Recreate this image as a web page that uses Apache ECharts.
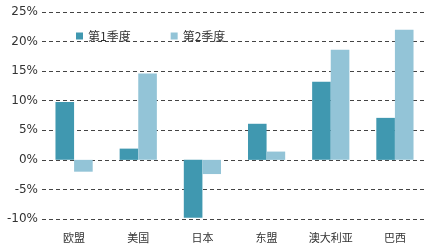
<!DOCTYPE html>
<html><head><meta charset="utf-8">
<script src="https://cdn.jsdelivr.net/npm/echarts@6/dist/echarts.min.js"></script>
<style>html,body{margin:0;padding:0;background:#fff}#c{width:440px;height:248px}</style>
</head><body><div id="c"></div>
<script>
const categories = ['欧盟','美国','日本','东盟','澳大利亚','巴西'];
const q1 = [9.8, 1.9, -9.8, 6.1, 13.2, 7.1];
const q2 = [-2.0, 14.6, -2.4, 1.4, 18.6, 22.0];
const yTicks = {min: -10, max: 25, interval: 5};
const chart = echarts.init(document.getElementById('c'));
chart.setOption({
  animation: false,
  grid: {left: 42, right: 13, top: 12, bottom: 29},
  legend: {
    left: 71, top: 25, itemWidth: 7, itemHeight: 7, itemGap: 40,
    icon: 'rect',
    textStyle: {fontSize: 12, color: '#333', fontFamily: 'Noto Sans CJK SC'},
    data: ['第1季度','第2季度']
  },
  xAxis: {
    type: 'category', data: categories,
    axisLine: {show: false}, axisTick: {show: false},
    axisLabel: {fontSize: 11, color: '#333', margin: 13, fontFamily: 'Noto Sans CJK SC'}
  },
  yAxis: {
    type: 'value', min: yTicks.min, max: yTicks.max, interval: yTicks.interval,
    axisLine: {show: false}, axisTick: {show: false},
    axisLabel: {formatter: '{value}%', fontSize: 12, color: '#333', margin: 4, fontFamily: 'DejaVu Sans'},
    splitLine: {lineStyle: {type: [4, 3], color: '#444', width: 1}}
  },
  series: [
    {name: '第1季度', type: 'bar', data: q1, barGap: '0%', barCategoryGap: '42%',
     itemStyle: {color: '#4098b0'}},
    {name: '第2季度', type: 'bar', data: q2,
     itemStyle: {color: '#93c4d7'}}
  ]
});
</script></body></html>
